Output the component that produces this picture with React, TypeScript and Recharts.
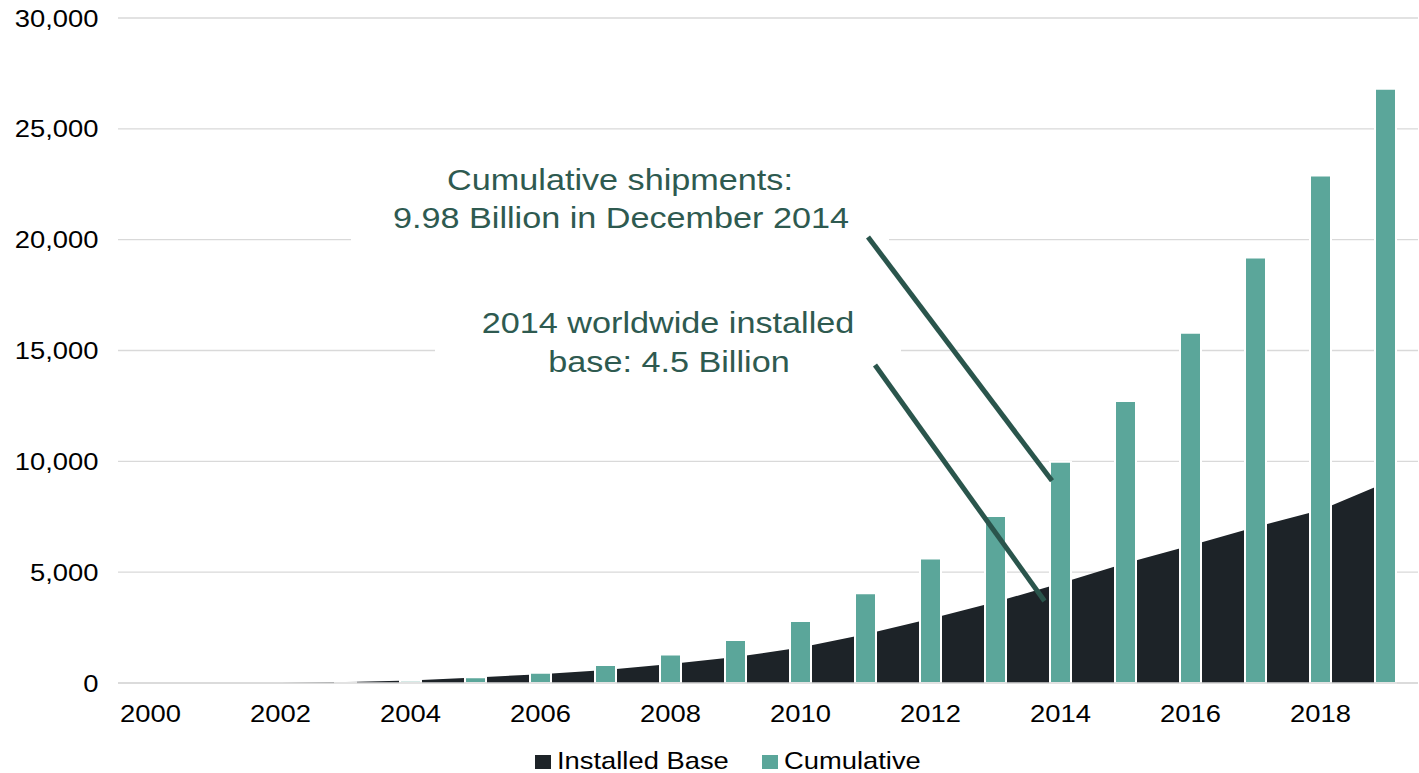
import React from 'react';
import { ComposedChart, Area, Bar, XAxis, YAxis, CartesianGrid } from 'recharts';

const YEARS = ['2000','2001','2002','2003','2004','2005','2006','2007','2008','2009','2010','2011','2012','2013','2014','2015','2016','2017','2018','2019'];
const INSTALLED_BASE = [0,0,0,40,110,250,400,590,860,1170,1600,2200,2900,3650,4500,5400,6200,7040,7800,9030];
const CUMULATIVE = [0,0,0,25,100,260,460,810,1290,1940,2800,4050,5620,7530,9980,12720,15800,19190,22890,26810];
const Y_TICKS = [0,5000,10000,15000,20000,25000,30000];

const SERIES_NAMES = { installed: 'Installed Base', cumulative: 'Cumulative' };
const COLORS = { installed: '#1D2328', cumulative: '#5BA69A', grid: '#D9D9D9', note: '#2E5A50', noteLine: '#2A554C' };

const data = YEARS.map((year, i) => ({ year, installed: INSTALLED_BASE[i], cumulative: CUMULATIVE[i] }));

const W = 1419, H = 773;
const M = { top: 18, right: 1, bottom: 40, left: 0 };
const Y_W = 118, X_H = 50;
const PLOT_L = M.left + Y_W, PLOT_T = M.top;
const PLOT_W = W - PLOT_L - M.right, PLOT_H = H - M.top - M.bottom - X_H;
const Y_MAX = 30000;
const xCenter = (i: number) => PLOT_L + (i + 0.5) * (PLOT_W / YEARS.length);
const yVal = (v: number) => PLOT_T + (1 - v / Y_MAX) * PLOT_H;

const FONT = '"Liberation Sans", Arial, sans-serif';
const SX = 1.14;

const XTick = (props: any) => {
  const { x, y, payload } = props;
  return (
    <text transform={`translate(${x},${y + 39}) scale(${SX},1)`} textAnchor="middle" fontFamily={FONT} fontSize={24} fill="#000">
      {payload.value}
    </text>
  );
};

const YTick = (props: any) => {
  const { x, y, payload } = props;
  return (
    <text transform={`translate(${x - 19.5},${y + 8.6}) scale(${SX},1)`} textAnchor="end" fontFamily={FONT} fontSize={24} fill="#000">
      {Number(payload.value).toLocaleString('en-US')}
    </text>
  );
};

const NoteText = ({ x, y, children }: any) => (
  <text transform={`translate(${x},${y}) scale(${SX},1)`} textAnchor="middle" fontFamily={FONT} fontSize={30} fill={COLORS.note}>
    {children}
  </text>
);

const LegendItem = ({ x, color, label }: any) => (
  <g>
    <rect x={x} y={755} width={16} height={14} fill={color} />
    <text transform={`translate(${x + 22},769.3) scale(${SX},1)`} fontFamily={FONT} fontSize={24} fill="#000">{label}</text>
  </g>
);

export default function App() {
  const i2014 = YEARS.indexOf('2014');
  return (
    <div style={{ position: 'absolute', left: 0, top: 0, width: W, height: H, background: '#fff' }}>
      <ComposedChart width={W} height={H} data={data} margin={M}>
        <CartesianGrid vertical={false} stroke={COLORS.grid} strokeWidth={1.3} />
        <XAxis dataKey="year" interval={1} height={X_H} tickSize={0} tickMargin={0} tickLine={false}
          axisLine={{ stroke: COLORS.grid, strokeWidth: 1.5 }} tick={<XTick />} />
        <YAxis width={Y_W} domain={[0, Y_MAX]} ticks={Y_TICKS} tickSize={0} tickMargin={0} tickLine={false}
          axisLine={false} tick={<YTick />} />
        <Area type="linear" dataKey="installed" name={SERIES_NAMES.installed} fill={COLORS.installed} fillOpacity={1}
          stroke="none" dot={false} activeDot={false} isAnimationActive={false} />
        <Bar dataKey="cumulative" name={SERIES_NAMES.cumulative} barSize={21} fill={COLORS.cumulative}
          stroke="#FFFFFF" strokeWidth={2} isAnimationActive={false} />
      </ComposedChart>
      <svg width={W} height={H} style={{ position: 'absolute', left: 0, top: 0, pointerEvents: 'none' }}>
        <rect x={351} y={160} width={538} height={92} fill="#fff" />
        <rect x={435} y={300} width={466} height={85} fill="#fff" />
        <NoteText x={620} y={190}>Cumulative shipments:</NoteText>
        <NoteText x={621} y={228.3}>9.98 Billion in December 2014</NoteText>
        <NoteText x={668} y={333.3}>2014 worldwide installed</NoteText>
        <NoteText x={669} y={371.7}>base: 4.5 Billion</NoteText>
        <line x1={868} y1={237} x2={xCenter(i2014) - 8.5} y2={yVal(CUMULATIVE[i2014]) + 19} stroke={COLORS.noteLine} strokeWidth={5} />
        <line x1={875} y1={365} x2={xCenter(i2014) - 16} y2={yVal(3700)} stroke={COLORS.noteLine} strokeWidth={5} />
        <LegendItem x={535} color={COLORS.installed} label={SERIES_NAMES.installed} />
        <LegendItem x={762} color={COLORS.cumulative} label={SERIES_NAMES.cumulative} />
      </svg>
    </div>
  );
}
